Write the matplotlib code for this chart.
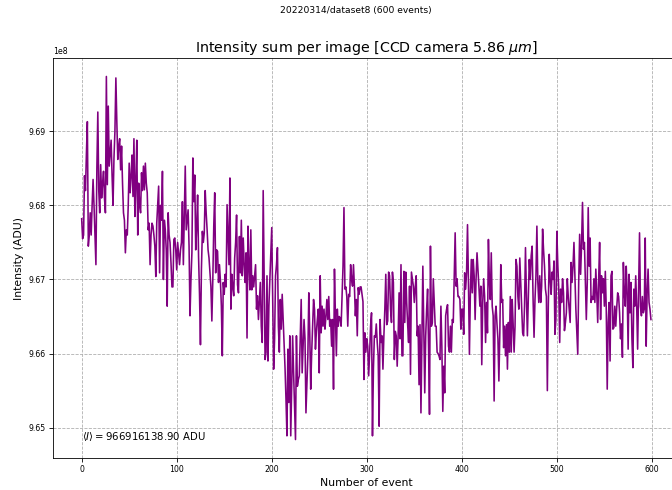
import matplotlib
matplotlib.use("Agg")
import matplotlib.pyplot as plt
import numpy as np

# Intensity per event, in units of 1e8 ADU
intensity_e8 = [
    9.6782, 9.6755, 9.6760, 9.6840, 9.6820, 9.6870, 9.6913, 9.6745, 9.6760, 9.6790,
    9.6760, 9.6800, 9.6835, 9.6800, 9.6760, 9.6720, 9.6850, 9.6926, 9.6820, 9.6790,
    9.6855, 9.6810, 9.6830, 9.6846, 9.6810, 9.6790, 9.6974, 9.6828, 9.6934, 9.6853,
    9.6870, 9.6888, 9.6840, 9.6800, 9.6864, 9.6900, 9.6972, 9.6913, 9.6862, 9.6880,
    9.6890, 9.6848, 9.6880, 9.6830, 9.6790, 9.6780, 9.6736, 9.6767, 9.6760, 9.6800,
    9.6857, 9.6817, 9.6840, 9.6868, 9.6812, 9.6890, 9.6785, 9.6830, 9.6888, 9.6760,
    9.6830, 9.6800, 9.6790, 9.6844, 9.6820, 9.6853, 9.6821, 9.6857, 9.6830, 9.6817,
    9.6767, 9.6776, 9.6720, 9.6760, 9.6776, 9.6772, 9.6760, 9.6745, 9.6704, 9.6776,
    9.6800, 9.6826, 9.6709, 9.6800, 9.6780, 9.6846, 9.6700, 9.6780, 9.6767, 9.6740,
    9.6664, 9.6790, 9.6760, 9.6750, 9.6722, 9.6690, 9.6690, 9.6754, 9.6756, 9.6740,
    # 100
    9.6713, 9.6750, 9.6735, 9.6720, 9.6740, 9.6750, 9.6805, 9.6720, 9.6790, 9.6853,
    9.6767, 9.6780, 9.6794, 9.6745, 9.6651, 9.6700, 9.6736, 9.6864, 9.6805, 9.6841,
    9.6740, 9.6770, 9.6814, 9.6731, 9.6680, 9.6612, 9.6713, 9.6765, 9.6750, 9.6763,
    9.6820, 9.6790, 9.6767, 9.6740, 9.6729, 9.6710, 9.6690, 9.6644, 9.6700, 9.6772,
    9.6817, 9.6709, 9.6740, 9.6738, 9.6696, 9.6720, 9.6698, 9.6664, 9.6597, 9.6696,
    9.6680, 9.6707, 9.6690, 9.6801, 9.6760, 9.6720, 9.6837, 9.6660, 9.6707, 9.6690,
    9.6678, 9.6729, 9.6750, 9.6787, 9.6693, 9.6682, 9.6758, 9.6709, 9.6780, 9.6705,
    9.6756, 9.6720, 9.6696, 9.6736, 9.6621, 9.6772, 9.6720, 9.6686, 9.6767, 9.6686,
    9.6705, 9.6690, 9.6705, 9.6720, 9.6660, 9.6678, 9.6646, 9.6670, 9.6696, 9.6637,
    9.6615, 9.6820, 9.6700, 9.6592, 9.6602, 9.6705, 9.6590, 9.6664, 9.6700, 9.6732,
    # 200
    9.6770, 9.6673, 9.6579, 9.6620, 9.6705, 9.6720, 9.6743, 9.6637, 9.6602, 9.6673,
    9.6633, 9.6680, 9.6646, 9.6615, 9.6580, 9.6538, 9.6489, 9.6606, 9.6534, 9.6624,
    9.6489, 9.6560, 9.6624, 9.6574, 9.6530, 9.6484, 9.6624, 9.6556, 9.6565, 9.6570,
    9.6620, 9.6673, 9.6574, 9.6610, 9.6646, 9.6620, 9.6520, 9.6560, 9.6597, 9.6682,
    9.6628, 9.6552, 9.6600, 9.6637, 9.6673, 9.6660, 9.6606, 9.6630, 9.6646, 9.6660,
    9.6574, 9.6705, 9.6628, 9.6664, 9.6637, 9.6660, 9.6633, 9.6650, 9.6673, 9.6646,
    9.6677, 9.6637, 9.6646, 9.6610, 9.6646, 9.6552, 9.6714, 9.6651, 9.6597, 9.6660,
    9.6637, 9.6650, 9.6648, 9.6637, 9.6677, 9.6718, 9.6797, 9.6687, 9.6690, 9.6677,
    9.6637, 9.6680, 9.6677, 9.6720, 9.6700, 9.6691, 9.6720, 9.6690, 9.6651, 9.6673,
    9.6624, 9.6689, 9.6680, 9.6690, 9.6690, 9.6680, 9.6670, 9.6565, 9.6628, 9.6602,
    # 300
    9.6620, 9.6610, 9.6570, 9.6600, 9.6637, 9.6655, 9.6489, 9.6580, 9.6624, 9.6622,
    9.6640, 9.6615, 9.6597, 9.6502, 9.6646, 9.6615, 9.6624, 9.6579, 9.6624, 9.6660,
    9.6707, 9.6639, 9.6644, 9.6710, 9.6705, 9.6660, 9.6642, 9.6710, 9.6696, 9.6592,
    9.6630, 9.6624, 9.6583, 9.6624, 9.6682, 9.6620, 9.6720, 9.6597, 9.6597, 9.6711,
    9.6642, 9.6710, 9.6669, 9.6640, 9.6615, 9.6691, 9.6572, 9.6710, 9.6701, 9.6691,
    9.6669, 9.6690, 9.6705, 9.6624, 9.6637, 9.6558, 9.6639, 9.6520, 9.6620, 9.6718,
    9.6633, 9.6547, 9.6624, 9.6660, 9.6687, 9.6610, 9.6518, 9.6745, 9.6637, 9.6642,
    9.6701, 9.6670, 9.6637, 9.6637, 9.6602, 9.6600, 9.6597, 9.6592, 9.6664, 9.6610,
    9.6522, 9.6583, 9.6547, 9.6651, 9.6660, 9.6666, 9.6610, 9.6602, 9.6637, 9.6602,
    9.6646, 9.6642, 9.6700, 9.6763, 9.6691, 9.6701, 9.6677, 9.6677, 9.6673, 9.6633,
    # 400
    9.6660, 9.6660, 9.6626, 9.6709, 9.6687, 9.6709, 9.6774, 9.6696, 9.6599, 9.6682,
    9.6727, 9.6682, 9.6727, 9.6705, 9.6646, 9.6701, 9.6736, 9.6714, 9.6690, 9.6664,
    9.6691, 9.6585, 9.6669, 9.6701, 9.6677, 9.6615, 9.6669, 9.6628, 9.6754, 9.6698,
    9.6673, 9.6736, 9.6664, 9.6651, 9.6536, 9.6651, 9.6664, 9.6640, 9.6620, 9.6563,
    9.6628, 9.6720, 9.6669, 9.6673, 9.6608, 9.6637, 9.6597, 9.6639, 9.6579, 9.6642,
    9.6602, 9.6677, 9.6602, 9.6673, 9.6640, 9.6602, 9.6637, 9.6727, 9.6718, 9.6677,
    9.6660, 9.6729, 9.6696, 9.6660, 9.6628, 9.6624, 9.6664, 9.6743, 9.6677, 9.6624,
    9.6677, 9.6727, 9.6700, 9.6732, 9.6745, 9.6673, 9.6622, 9.6673, 9.6705, 9.6772,
    9.6696, 9.6669, 9.6705, 9.6669, 9.6691, 9.6768, 9.6740, 9.6718, 9.6687, 9.6677,
    9.6550, 9.6664, 9.6734, 9.6700, 9.6680, 9.6710, 9.6700, 9.6725, 9.6626, 9.6646,
    # 500
    9.6765, 9.6720, 9.6687, 9.6615, 9.6687, 9.6669, 9.6701, 9.6682, 9.6631, 9.6642,
    9.6655, 9.6701, 9.6677, 9.6660, 9.6642, 9.6723, 9.6696, 9.6718, 9.6750, 9.6705,
    9.6660, 9.6630, 9.6599, 9.6696, 9.6761, 9.6707, 9.6747, 9.6804, 9.6741, 9.6750,
    9.6696, 9.6646, 9.6696, 9.6797, 9.6718, 9.6756, 9.6669, 9.6677, 9.6673, 9.6701,
    9.6669, 9.6714, 9.6682, 9.6642, 9.6700, 9.6750, 9.6646, 9.6705, 9.6682, 9.6701,
    9.6664, 9.6711, 9.6660, 9.6552, 9.6642, 9.6669, 9.6590, 9.6705, 9.6711, 9.6633,
    9.6635, 9.6664, 9.6637, 9.6662, 9.6682, 9.6677, 9.6655, 9.6620, 9.6640, 9.6595,
    9.6723, 9.6682, 9.6664, 9.6718, 9.6682, 9.6606, 9.6707, 9.6655, 9.6696, 9.6620,
    9.6581, 9.6687, 9.6664, 9.6705, 9.6664, 9.6606, 9.6687, 9.6763, 9.6664, 9.6651,
    9.6677, 9.6655, 9.6660, 9.6756, 9.6610, 9.6682, 9.6714, 9.6669, 9.6660, 9.6646,
]
events = list(range(len(intensity_e8)))

suptitle_text = "20220314/dataset8 (600 events)"
title_text = r"Intensity sum per image [CCD camera 5.86 $\mu m$]"
xlabel_text = "Number of event"
ylabel_text = "Intensity (ADU)"
mean_text = r"$\langle I \rangle = 966916138.90$ ADU"

plt.rcParams["font.family"] = ["DejaVu Sans"]
plt.rcParams["mathtext.fontset"] = "dejavusans"

W, H = 672, 490
fig = plt.figure(figsize=(W / 100, H / 100), dpi=100)
ax = fig.add_axes([53.2 / W, (H - 457.7) / H, (679.4 - 53.2) / W, (457.7 - 58.3) / H])

y = np.array(intensity_e8) * 1e8
ax.plot(events, y, color="purple", lw=1.15)

ax.grid(True, linestyle="--", color="#b0b0b0", lw=0.6)
ax.set_axisbelow(True)

ax.set_xticks([0, 100, 200, 300, 400, 500, 600])
ax.tick_params(labelsize=5.6, length=2.7, width=0.6, pad=2.7)
for s in ax.spines.values():
    s.set_linewidth(0.6)
ax.yaxis.get_offset_text().set_fontsize(5.6)

ax.set_xlabel(xlabel_text, fontsize=7.85, labelpad=3)
ax.set_ylabel(ylabel_text, fontsize=7.85, labelpad=3)
ax.set_title(title_text, fontsize=10.3, pad=4.7)
fig.suptitle(suptitle_text, x=356 / W, y=1 - 10 / H, va="center", fontsize=6.55)

ax.text(0.046, 0.054, mean_text, transform=ax.transAxes, fontsize=7.3,
        ha="left", va="center")

fig.savefig("out.png", dpi=100)
